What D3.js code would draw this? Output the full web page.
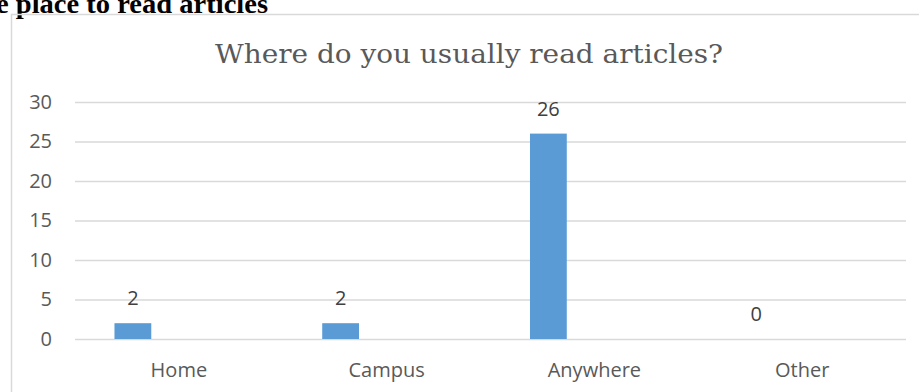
<!DOCTYPE html>
<html>
<head>
<meta charset="utf-8">
<script src="https://cdn.jsdelivr.net/npm/d3@7"></script>
<style>
  html, body { margin: 0; padding: 0; background: #fff; }
  svg { display: block; }
</style>
</head>
<body>
<svg id="chart" width="919" height="392"></svg>
<script>
const categories = ["Home", "Campus", "Anywhere", "Other"];
const seriesNames = ["Series1", "Series2", "Series3"];
const responses = [2, 2, 26, 0];
const yTicks = [0, 5, 10, 15, 20, 25, 30];
const chartTitle = "Where do you usually read articles?";
const headingText = "e place to read articles";

const svg = d3.select("#chart");
const labelFont = "'Open Sans', sans-serif";
const labelSize = 20;

// heading (cut off at top-left in the source document)
svg.append("text")
  .attr("x", -4).attr("y", 13)
  .attr("font-family", "'Liberation Serif', serif")
  .attr("font-weight", "bold")
  .attr("font-size", 28)
  .attr("fill", "#000")
  .attr("textLength", 272)
  .attr("lengthAdjust", "spacingAndGlyphs")
  .text(headingText);

// chart border
svg.append("rect")
  .attr("x", 11.5).attr("y", 14.5)
  .attr("width", 920).attr("height", 400)
  .attr("fill", "none")
  .attr("stroke", "#d9d9d9")
  .attr("stroke-width", 1.5);

// title
svg.append("text")
  .attr("x", 469).attr("y", 63)
  .attr("text-anchor", "middle")
  .attr("font-family", "'DejaVu Serif', serif")
  .attr("font-size", 26)
  .attr("fill", "#595959")
  .attr("textLength", 508)
  .attr("lengthAdjust", "spacingAndGlyphs")
  .text(chartTitle);

const x = d3.scaleBand().domain(categories).range([75, 906]);
const x1 = d3.scaleBand().domain(seriesNames).range([-69, 69]).paddingInner(0.2).paddingOuter(0.1);
const y = d3.scaleLinear().domain([0, 30]).range([339, 102]);

// gridlines + y labels
const yAxis = d3.axisLeft(y).tickValues(yTicks).tickSize(-(906 - 75)).tickPadding(23);
const gy = svg.append("g").attr("transform", "translate(75,0)").call(yAxis);
gy.select(".domain").remove();
gy.selectAll(".tick line").attr("stroke", "#d9d9d9").attr("stroke-width", 1.5);
gy.selectAll(".tick text")
  .attr("font-family", labelFont)
  .attr("font-size", labelSize)
  .attr("fill", "#595959");

// x axis labels
const xAxis = d3.axisBottom(x).tickSize(0).tickPadding(24);
const gx = svg.append("g").attr("transform", "translate(0,339)").call(xAxis);
gx.select(".domain").remove();
gx.selectAll(".tick text")
  .attr("font-family", labelFont)
  .attr("font-size", labelSize)
  .attr("fill", "#595959");

// bars
const barData = categories.map((c, i) => ({ c, v: responses[i] }));
const cx = d => x(d.c) + x.bandwidth() / 2 + x1(seriesNames[0]);
svg.append("g").selectAll("rect").data(barData).join("rect")
  .attr("x", cx)
  .attr("y", d => y(d.v))
  .attr("width", x1.bandwidth())
  .attr("height", d => y(0) - y(d.v))
  .attr("fill", "#5b9bd5");

// data labels
svg.append("g").selectAll("text").data(barData).join("text")
  .attr("x", d => cx(d) + x1.bandwidth() / 2)
  .attr("y", d => y(d.v) - 18)
  .attr("text-anchor", "middle")
  .attr("font-family", labelFont)
  .attr("font-size", labelSize)
  .attr("fill", "#404040")
  .text(d => d.v);
</script>
</body>
</html>
